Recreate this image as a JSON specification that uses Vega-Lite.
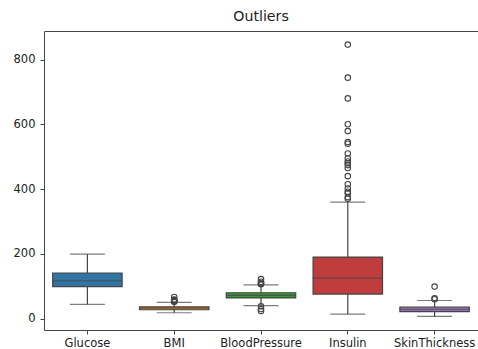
{
  "$schema": "https://vega.github.io/schema/vega-lite/v6.json",
  "width": 434,
  "height": 299,
  "autosize": {"type": "none"},
  "padding": {"left": 44, "top": 31, "right": 0, "bottom": 19},
  "background": "white",
  "title": {"text": "Outliers", "font": "DejaVu Sans", "fontSize": 14.2, "fontWeight": "normal", "color": "#222", "anchor": "middle", "offset": 7},
  "config": {
    "view": {"stroke": "#444", "strokeWidth": 1},
    "axis": {"labelFont": "DejaVu Sans", "labelFontSize": 11.5, "labelColor": "#222", "tickColor": "#444", "tickSize": 4, "labelPadding": 3, "domain": false, "grid": false, "title": null}
  },
  "datasets": {
    "boxes": [
      {"feature": "Glucose", "lower": 44, "q1": 99, "median": 117, "q3": 141, "upper": 199},
      {"feature": "BMI", "lower": 18.2, "q1": 27.5, "median": 32.3, "q3": 36.6, "upper": 50.0},
      {"feature": "BloodPressure", "lower": 40, "q1": 64, "median": 72, "q3": 80, "upper": 104},
      {"feature": "Insulin", "lower": 14, "q1": 76, "median": 125, "q3": 190, "upper": 360},
      {"feature": "SkinThickness", "lower": 7, "q1": 22, "median": 29, "q3": 36, "upper": 56}
    ],
    "outliers": [
      {"feature": "BMI", "value": 52.3}, {"feature": "BMI", "value": 52.9}, {"feature": "BMI", "value": 53.2},
      {"feature": "BMI", "value": 55.0}, {"feature": "BMI", "value": 57.3}, {"feature": "BMI", "value": 59.4},
      {"feature": "BMI", "value": 67.1},
      {"feature": "BloodPressure", "value": 24}, {"feature": "BloodPressure", "value": 30}, {"feature": "BloodPressure", "value": 38},
      {"feature": "BloodPressure", "value": 106}, {"feature": "BloodPressure", "value": 108}, {"feature": "BloodPressure", "value": 110},
      {"feature": "BloodPressure", "value": 114}, {"feature": "BloodPressure", "value": 122},
      {"feature": "Insulin", "value": 370}, {"feature": "Insulin", "value": 375}, {"feature": "Insulin", "value": 387},
      {"feature": "Insulin", "value": 392}, {"feature": "Insulin", "value": 402}, {"feature": "Insulin", "value": 415},
      {"feature": "Insulin", "value": 440}, {"feature": "Insulin", "value": 465}, {"feature": "Insulin", "value": 474},
      {"feature": "Insulin", "value": 480}, {"feature": "Insulin", "value": 485}, {"feature": "Insulin", "value": 495},
      {"feature": "Insulin", "value": 510}, {"feature": "Insulin", "value": 540}, {"feature": "Insulin", "value": 545},
      {"feature": "Insulin", "value": 579}, {"feature": "Insulin", "value": 600}, {"feature": "Insulin", "value": 680},
      {"feature": "Insulin", "value": 744}, {"feature": "Insulin", "value": 846},
      {"feature": "SkinThickness", "value": 60}, {"feature": "SkinThickness", "value": 63}, {"feature": "SkinThickness", "value": 99}
    ]
  },
  "layer": [
    {
      "data": {"name": "boxes"},
      "mark": {"type": "rule", "color": "#444", "strokeWidth": 1.2},
      "encoding": {
        "x": {"field": "feature", "type": "nominal", "scale": {"domain": ["Glucose", "BMI", "BloodPressure", "Insulin", "SkinThickness"], "paddingInner": 0, "paddingOuter": 0}, "axis": {"labelAngle": 0}},
        "y": {"field": "lower", "type": "quantitative", "scale": {"domain": [-35, 888], "nice": false, "zero": false}, "axis": {"values": [0, 200, 400, 600, 800], "labelPadding": 5}},
        "y2": {"field": "upper"}
      }
    },
    {
      "data": {"name": "boxes"},
      "mark": {"type": "tick", "color": "#444", "size": 35, "thickness": 1.2},
      "encoding": {
        "x": {"field": "feature", "type": "nominal"},
        "y": {"field": "lower", "type": "quantitative"}
      }
    },
    {
      "data": {"name": "boxes"},
      "mark": {"type": "tick", "color": "#444", "size": 35, "thickness": 1.2},
      "encoding": {
        "x": {"field": "feature", "type": "nominal"},
        "y": {"field": "upper", "type": "quantitative"}
      }
    },
    {
      "data": {"name": "boxes"},
      "mark": {"type": "bar", "width": {"band": 0.8}, "stroke": "#444", "strokeWidth": 1.2},
      "encoding": {
        "x": {"field": "feature", "type": "nominal"},
        "y": {"field": "q1", "type": "quantitative"},
        "y2": {"field": "q3"},
        "color": {"field": "feature", "type": "nominal", "legend": null, "scale": {"domain": ["Glucose", "BMI", "BloodPressure", "Insulin", "SkinThickness"], "range": ["#3274a1", "#e1812c", "#3a923a", "#c03d3e", "#9372b2"]}},
        "opacity": {"value": 1}
      }
    },
    {
      "data": {"name": "boxes"},
      "mark": {"type": "tick", "color": "#444", "size": 70, "thickness": 1.2},
      "encoding": {
        "x": {"field": "feature", "type": "nominal"},
        "y": {"field": "median", "type": "quantitative"}
      }
    },
    {
      "data": {"name": "outliers"},
      "mark": {"type": "point", "shape": "circle", "filled": false, "stroke": "#444", "strokeWidth": 1.1, "size": 30, "opacity": 1},
      "encoding": {
        "x": {"field": "feature", "type": "nominal"},
        "y": {"field": "value", "type": "quantitative"}
      }
    }
  ]
}
